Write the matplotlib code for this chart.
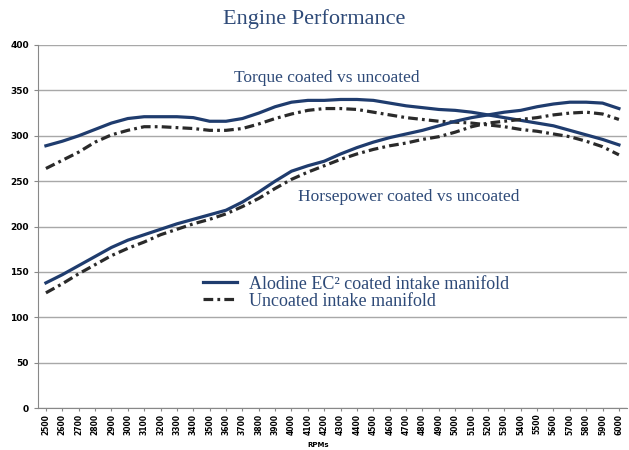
import numpy as np
import matplotlib
matplotlib.use("Agg")
import matplotlib.pyplot as plt

plt.rcParams["lines.scale_dashes"] = False

# RPM categories
rpms = list(range(2500, 6001, 100))

# Torque (upper pair)
torque_coated = [289, 294, 300, 307, 314, 319, 321, 321, 321, 320, 316, 316,
                 319, 325, 332, 337, 339, 339, 340, 340, 339, 336, 333, 331,
                 329, 328, 326, 323, 320, 317, 314, 311, 306, 301, 296, 290]
torque_uncoated = [264, 273, 282, 293, 301, 306, 310, 310, 309, 308, 306, 306,
                   308, 313, 319, 324, 328, 330, 330, 329, 326, 323, 320, 318,
                   316, 315, 314, 312, 310, 307, 305, 302, 299, 294, 288, 279]

# Horsepower (lower pair)
hp_coated = [138, 147, 157, 167, 177, 185, 191, 197, 203, 208, 213, 218,
             227, 238, 250, 261, 267, 272, 280, 287, 293, 298, 302, 306,
             311, 316, 320, 323, 326, 328, 332, 335, 337, 337, 336, 330]
hp_uncoated = [127, 137, 148, 158, 168, 176, 183, 191, 197, 203, 208, 214,
               222, 231, 242, 252, 260, 267, 274, 280, 285, 289, 292, 296,
               299, 304, 310, 314, 316, 318, 320, 323, 325, 326, 324, 318]

navy = "#1f3c6e"
dark = "#2a2a2a"
text_blue = "#2e4a78"
dashdot = (0, (7, 3, 2, 3))
serif = ["Liberation Serif", "DejaVu Serif"]

fig = plt.figure(figsize=(6.29, 4.5), dpi=100)
ax = fig.add_axes([0.060, 0.093, 0.937, 0.807])

x = np.arange(len(rpms))
ax.plot(x, torque_coated, color=navy, lw=2.3, label="Alodine EC² coated intake manifold")
ax.plot(x, torque_uncoated, color=dark, lw=2.3, linestyle=dashdot, label="Uncoated intake manifold")
ax.plot(x, hp_coated, color=navy, lw=2.3)
ax.plot(x, hp_uncoated, color=dark, lw=2.3, linestyle=dashdot)

ax.set_xlim(-0.5, len(rpms) - 0.5)
ax.set_ylim(0, 400)
ax.set_yticks(range(0, 401, 50))
ax.set_xticks(x)
ax.set_xticklabels([str(r) for r in rpms], rotation=90, fontsize=5.5, fontweight="bold")
ax.tick_params(axis="y", labelsize=6.5, length=3, color="#888888")
for lab in ax.get_yticklabels():
    lab.set_fontweight("bold")
ax.tick_params(axis="x", length=2, color="#888888", pad=2)

ax.grid(axis="y", color="#a8a8a8", lw=1)
ax.set_axisbelow(True)
for s in ["top", "right"]:
    ax.spines[s].set_visible(False)
ax.spines["left"].set_color("#888888")
ax.spines["bottom"].set_color("#888888")

fig.text(0.5, 0.958, "Engine Performance", fontsize=16, color=text_blue,
         family=serif, ha="center", va="center")

ax.text(11.5, 364, "Torque coated vs uncoated", fontsize=12.5, color=text_blue,
        family=serif, va="center", ha="left")
ax.text(15.4, 233, "Horsepower coated vs uncoated", fontsize=12.5, color=text_blue,
        family=serif, va="center", ha="left",
        bbox=dict(facecolor="white", edgecolor="none", pad=1))

leg = ax.legend(loc="upper left", bbox_to_anchor=(0.252, 0.41), frameon=False,
                prop={"family": serif, "size": 13}, handlelength=1.9,
                labelspacing=0.0, handletextpad=0.7)
for t in leg.get_texts():
    t.set_color(text_blue)

fig.text(0.506, 0.005, "RPMs", fontsize=5, fontweight="bold", ha="center", va="bottom")

fig.savefig("out.png", dpi=100)
